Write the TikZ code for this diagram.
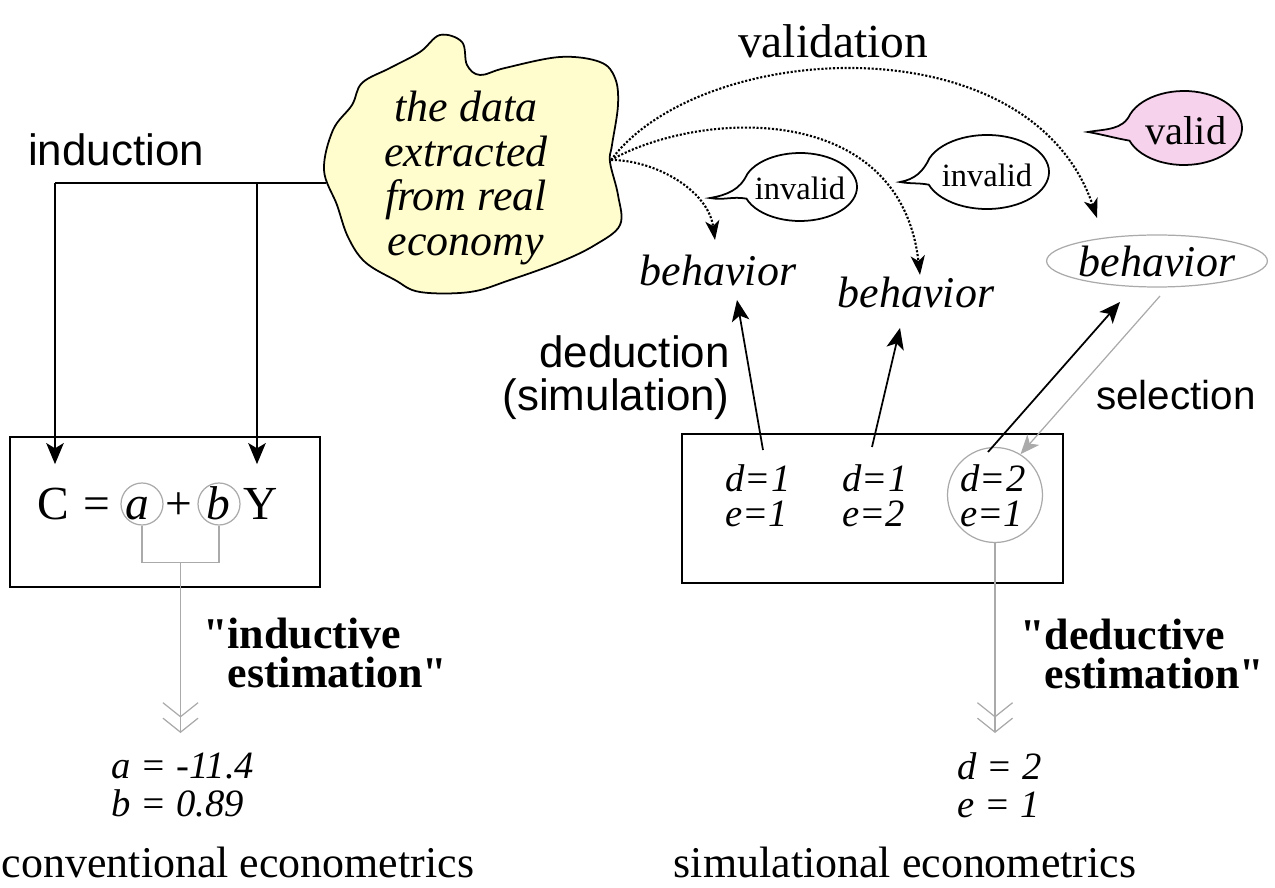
\documentclass[tikz,border=0pt]{standalone}
\usepackage{fontspec}
\setmainfont{Liberation Serif}
\setsansfont{Liberation Sans}
\usetikzlibrary{positioning,calc,arrows.meta,shapes.geometric}
\definecolor{datayellow}{RGB}{255,253,205}
\definecolor{validpink}{RGB}{246,210,236}
\definecolor{selgray}{RGB}{170,170,170}
\newcommand{\fsz}[2]{\fontsize{#1pt}{#2pt}\selectfont}

\begin{document}
\begin{tikzpicture}[x=0.02cm, y=0.02cm, every node/.style={inner sep=0pt},
    arr/.style={line width=1pt, -{Stealth[length=12pt,width=10pt,inset=3pt]}},
    dotarr/.style={line width=1.2pt, densely dotted, -{Stealth[length=11pt,width=8pt,inset=3pt]}},
    gline/.style={draw=selgray, line width=0.7pt},
    chev/.style={-{Straight Barb[length=8pt,width=20pt,sep=0pt]Straight Barb[length=8pt,width=20pt]}},
    ring/.style={circle, draw=selgray, line width=0.7pt},
    sanslbl/.style={font=\sffamily\fsz{25}{24.4}},
    serlbl/.style={font=\fsz{25}{27}},
    boldlbl/.style={font=\bfseries\fsz{25}{22.7}},
    datatext/.style={font=\itshape\fsz{25}{25.5}, align=center},
    behav/.style={font=\itshape\fsz{25}{25}},
    paramtext/.style={font=\itshape\fsz{22}{20}, align=left},
    esttext/.style={font=\itshape\fsz{22}{21.5}, align=left},
    eqtext/.style={font=\fsz{27}{27}},
    bubtext/.style={font=\fsz{18.5}{18.5}}]
  \useasboundingbox (0,0) rectangle (1275,-888);

  % the data cloud
  \draw[line width=1pt, fill=datayellow] plot[smooth cycle, tension=0.6] coordinates {(440,-35) (462,-42) (467,-65) (480,-75) (505,-68) (560,-57) (600,-62) (615,-78) (618,-105) (612,-145) (610,-162) (618,-195) (620,-225) (595,-245) (560,-262) (510,-280) (470,-292) (420,-292) (395,-280) (365,-262) (348,-237) (337,-205) (324,-170) (333,-130) (352,-105) (362,-83) (390,-68) (420,-52)};
  \node[datatext] (data) at (466,-178) {the data\\extracted\\from real\\economy};
  \coordinate (dataR) at (611,-160);
  \coordinate (dataL) at (326,-183);

  % conventional side
  \node[sanslbl] (induct) at (116,-150) {induction};
  \node[draw, line width=1pt, minimum width=6.2cm, minimum height=3cm] (lbox) at (165,-512) {};
  \coordinate (j1) at (55,-183);
  \coordinate (j2) at (257,-183);
  \draw[line width=1pt] (dataL) -- (j1);
  \foreach \j in {j1,j2}
    \draw[arr] (\j) -- ($(\j |- lbox.north)+(0,-28)$);
  \foreach \n/\x/\t in {eqC/53/C, eqeq/97/=, eqa/137/\textit{a}, eqplus/179/+, eqb/218/\textit{b}, eqY/261/Y}
    \node[eqtext, anchor=base] (\n) at (\x,-520) {\t};
  \node[ring, minimum size=0.84cm] (ringa) at (142,-504) {};
  \node[ring, minimum size=0.84cm] (ringb) at (219,-504) {};
  \draw[gline] (ringa.south) -- ++(0,-37) coordinate (brL) -- (brL -| ringb.south) coordinate (brR) -- (ringb.south);
  \coordinate (lfoot) at ($(brL)!0.5!(brR)$);
  \coordinate (lend) at (lfoot |- 0,-733);
  \draw[gline, chev] (lfoot) -- (lend);
  \node[boldlbl, anchor=west, align=left] (lind) at (203,-653) {\textquotedbl inductive\\\phantom{\textquotedbl}estimation\textquotedbl};
  \node[esttext] (lres) at (183,-785) {a = -11.4\\b = 0.89};
  \node[serlbl] (conv) at (238,-862) {conventional econometrics};

  % simulational side
  \node[serlbl, font=\fsz{27}{27}] (validn) at (833,-41) {validation};
  \node[draw, line width=1pt, minimum width=7.62cm, minimum height=2.98cm] (rbox) at (872.5,-508.5) {};
  \node[paramtext] (s1) at (758,-496) {d=1\\e=1};
  \node[paramtext] (s2) at (875,-496) {d=1\\e=2};
  \node[paramtext] (s3) at (993,-496) {d=2\\e=1};
  \node[ring, minimum size=1.9cm] (ring3) at (995,-495) {};
  \node[behav] (b1) at (718,-270) {behavior};
  \node[behav] (b2) at (916,-292) {behavior};
  \node[behav, ellipse, draw=selgray, line width=0.7pt, minimum width=3.88cm, minimum height=1.04cm] (b3) at (1157,-261) {behavior};
  \draw[arr] ($(s1)+(5,46)$) -- ($(b1)+(19,-30)$);
  \draw[arr] ($(s2)+(-3,49)$) -- ($(b2)+(-16,-36)$);
  \draw[arr] ($(s3)+(-5,44)$) -- ($(b3)+(-37,-41)$);
  \draw[gline, -{Stealth[length=11pt,width=9pt,inset=3pt]}] ($(b3)+(3,-35)$) -- (ring3.58);
  \coordinate (rend) at (ring3.south |- lend);
  \draw[gline, chev] (ring3.south) -- (rend);
  \node[sanslbl, align=right, anchor=east] (deduct) at (730,-378) {deduction\\(simulation)};
  \node[sanslbl, font=\sffamily\fsz{23}{23}] (select) at (1176,-395) {selection};
  \node[boldlbl, anchor=west, align=left] (ldd) at (1020,-654) {\textquotedbl deductive\\\phantom{\textquotedbl}estimation\textquotedbl};
  \node[esttext] (rres) at (1000,-785) {d = 2\\e = 1};
  \node[serlbl] (simul) at (905,-862) {simulational econometrics};

  % validation against the data
  \draw[dotarr] (dataR) .. controls (655,-160) and (708,-190) .. ($(b1)+(-3,30)$);
  \draw[dotarr] (dataR) .. controls (700,-110) and (900,-100) .. ($(b2)+(4,17)$);
  \draw[dotarr] (dataR) .. controls (700,-40) and (1030,-20) .. ($(b3)+(-60,43)$);
  \foreach \cx/\cy/\rx/\ry/\tx/\ty/\fc in {800/-187/57/34/710/-198/white, 987/-172/62/37/900/-182/white, 1184/-128/58/37/1088/-132/validpink}
    \draw[line width=1pt, fill=\fc] (\tx,\ty) to[out=10,in=-115] ($(\cx,\cy)+({\rx*cos(158)},{\ry*sin(158)})$) arc[start angle=158, end angle=-160, x radius=\rx, y radius=\ry] to[out=170,in=-10] (\tx,\ty) -- cycle;
  \node[bubtext] (inv1) at (800,-188) {invalid};
  \node[bubtext] (inv2) at (987,-175) {invalid};
  \node[bubtext, font=\fsz{23}{23}] (okay) at (1186,-131) {valid};
\end{tikzpicture}
\end{document}
